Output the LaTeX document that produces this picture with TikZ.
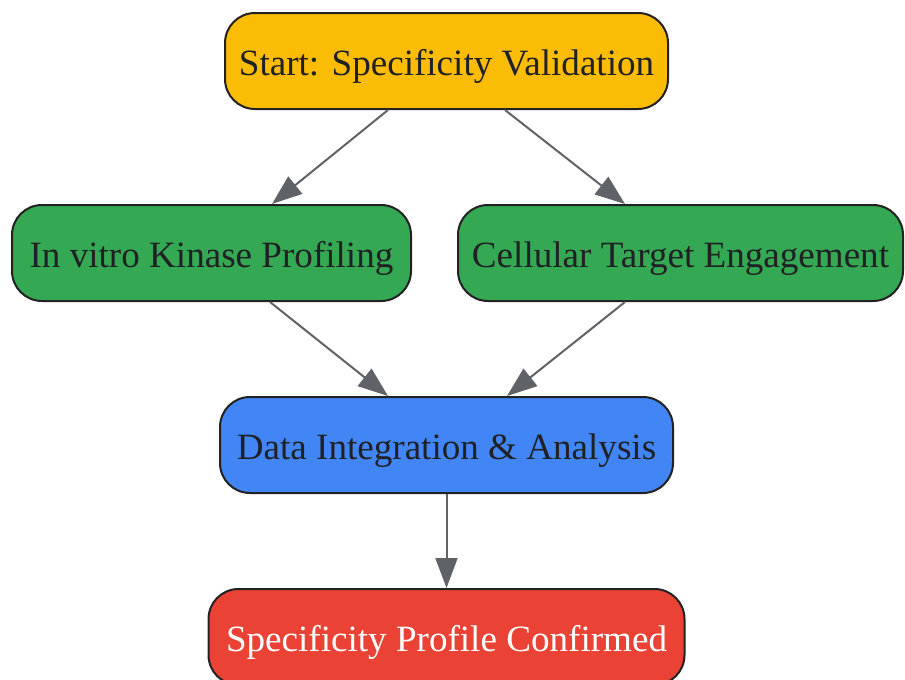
\documentclass[tikz,border=0pt]{standalone}
\usepackage{fontspec}
\setmainfont{Liberation Serif}
\usetikzlibrary{arrows.meta,calc}
\definecolor{cyellow}{HTML}{FBBC05}
\definecolor{cgreen}{HTML}{34A853}
\definecolor{cblue}{HTML}{4285F4}
\definecolor{cred}{HTML}{EA4335}
\definecolor{cborder}{HTML}{222222}
\definecolor{ctext}{HTML}{202124}
\definecolor{carrow}{HTML}{5F6368}
\begin{document}
\begin{tikzpicture}[x=1pt,y=-1pt,
  box/.style={draw=cborder, line width=2pt, rounded corners=30pt, minimum height=96pt, inner sep=0pt,
    text height=28pt, text depth=0pt,
    font=\fontsize{37.1}{44}\selectfont, text=ctext},
  flow/.style={draw=carrow, line width=2pt, -{Triangle[length=30pt,width=22pt]}}]
\useasboundingbox (0,0) rectangle (905,680);
\node[box, fill=cyellow, minimum width=443pt] (start) at (446.5,61) {Start: Specificity Validation};
\node[box, fill=cgreen, minimum width=399pt] (vitro) at (211.5,253) {In vitro Kinase Profiling};
\node[box, fill=cgreen, minimum width=445pt] (cell) at (680.5,253) {Cellular Target Engagement};
\node[box, fill=cblue, minimum width=453pt] (data) at (446.5,445) {Data Integration \& Analysis};
\node[box, fill=cred, minimum width=476pt, text=white] (conf) at (446.5,637) {Specificity Profile Confirmed};
\draw[flow] ([xshift=-58.5pt]start.south) -- ([xshift=60.5pt]vitro.north);
\draw[flow] ([xshift=58.5pt]start.south) -- ([xshift=-55.5pt]cell.north);
\draw[flow] ([xshift=58.5pt]vitro.south) -- ([xshift=-58.5pt]data.north);
\draw[flow] ([xshift=-55.5pt]cell.south) -- ([xshift=60.5pt]data.north);
\draw[flow] (data.south) -- (conf.north);
\end{tikzpicture}
\end{document}
